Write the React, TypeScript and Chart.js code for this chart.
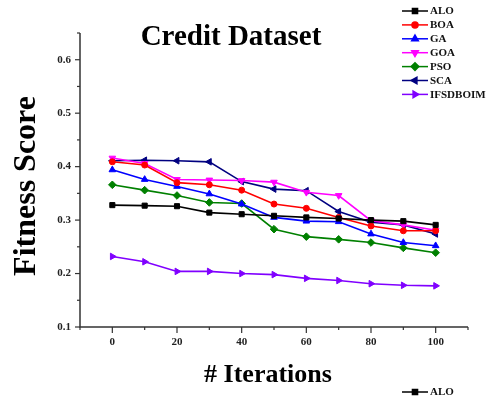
import React, { useEffect, useRef } from 'react';
import { Chart, registerables } from 'chart.js';
import { drawPoint } from 'chart.js/helpers';

Chart.register(...registerables);

const chartTitle = 'Credit Dataset';
const xAxisTitle = '# Iterations';
const yAxisTitle = 'Fitness Score';

const iterations = [0, 10, 20, 30, 40, 50, 60, 70, 80, 90, 100];

const ALO = [0.328, 0.327, 0.326, 0.314, 0.311, 0.308, 0.305, 0.303, 0.300, 0.298, 0.291];
const BOA = [0.409, 0.403, 0.370, 0.366, 0.356, 0.330, 0.322, 0.305, 0.289, 0.280, 0.280];
const GA = [0.394, 0.376, 0.363, 0.349, 0.330, 0.305, 0.298, 0.297, 0.274, 0.258, 0.252];
const GOA = [0.416, 0.406, 0.376, 0.375, 0.374, 0.371, 0.352, 0.346, 0.299, 0.291, 0.281];
const PSO = [0.366, 0.356, 0.346, 0.333, 0.331, 0.283, 0.269, 0.264, 0.258, 0.248, 0.239];
const SCA = [0.411, 0.412, 0.411, 0.409, 0.372, 0.358, 0.355, 0.316, 0.296, 0.291, 0.274];
const IFSDBOIM = [0.232, 0.222, 0.204, 0.204, 0.200, 0.198, 0.191, 0.187, 0.181, 0.178, 0.177];

const seriesNames = ['ALO', 'BOA', 'GA', 'GOA', 'PSO', 'SCA', 'IFSDBOIM'];
const seriesValues = [ALO, BOA, GA, GOA, PSO, SCA, IFSDBOIM];
const seriesColors = ['#000000', '#ff0000', '#0000ff', '#ff00ff', '#008000', '#000080', '#8000ff'];
const seriesMarkers = ['rect', 'circle', 'triangle', 'triangle', 'rectRot', 'triangle', 'triangle'];
const seriesRotations = [0, 0, 0, 180, 0, -90, 90];
const seriesMarkerRadius = [3.6, 3, 3.8, 3.8, 3.8, 3.8, 3.8];

const xTickLabels = [0, 20, 40, 60, 80, 100];
const yTickLabels = [0.1, 0.2, 0.3, 0.4, 0.5, 0.6];

const SERIF = "'Liberation Serif', 'Times New Roman', serif";

const decorPlugin = {
  id: 'decor',
  afterDraw(chart: any) {
    const ctx = chart.ctx as CanvasRenderingContext2D;
    const { left, right, top, bottom } = chart.chartArea;
    const xs = chart.scales.x;
    const ys = chart.scales.y;
    ctx.save();
    ctx.strokeStyle = '#333333';
    ctx.lineWidth = 1.5;
    ctx.beginPath();
    ctx.moveTo(left, top);
    ctx.lineTo(left, bottom);
    ctx.lineTo(right, bottom);
    ctx.stroke();
    ctx.lineWidth = 1.2;
    xs.ticks.forEach((t: any) => {
      const px = xs.getPixelForValue(t.value);
      const major = xTickLabels.includes(Math.round(t.value));
      ctx.beginPath();
      ctx.moveTo(px, bottom);
      ctx.lineTo(px, bottom + (major ? 6 : 3));
      ctx.stroke();
    });
    ys.ticks.forEach((t: any) => {
      const py = ys.getPixelForValue(t.value);
      const major = yTickLabels.some((v) => Math.abs(v - t.value) < 1e-6);
      ctx.beginPath();
      ctx.moveTo(left, py);
      ctx.lineTo(left - (major ? 5 : 3), py);
      ctx.stroke();
    });

    ctx.fillStyle = '#000000';
    ctx.font = `bold 29px ${SERIF}`;
    ctx.textAlign = 'center';
    ctx.textBaseline = 'alphabetic';
    ctx.fillText(chartTitle, 231, 45);
    ctx.font = `bold 26px ${SERIF}`;
    ctx.fillText(xAxisTitle, 268, 382);
    ctx.save();
    ctx.translate(35, 186);
    ctx.rotate(-Math.PI / 2);
    ctx.font = `bold 32px ${SERIF}`;
    ctx.fillText(yAxisTitle, 0, 0);
    ctx.restore();

    const drawEntry = (i: number, y: number) => {
      const ds = chart.data.datasets[i];
      ctx.strokeStyle = ds.borderColor;
      ctx.fillStyle = ds.backgroundColor;
      ctx.lineWidth = 1.5;
      ctx.beginPath();
      ctx.moveTo(402, y);
      ctx.lineTo(428, y);
      ctx.stroke();
      drawPoint(ctx, { pointStyle: ds.pointStyle, rotation: ds.pointRotation, radius: ds.pointRadius, borderWidth: 1 } as any, 415, y);
      ctx.fillStyle = '#111111';
      ctx.font = `bold 11px ${SERIF}`;
      ctx.textAlign = 'left';
      ctx.textBaseline = 'middle';
      ctx.fillText(ds.label, 430, y + 0.5);
    };
    chart.data.datasets.forEach((_: any, i: number) => drawEntry(i, 11 + i * 13.9));
    drawEntry(0, 392);
    ctx.restore();
  },
};

export default function App() {
  const ref = useRef<HTMLCanvasElement | null>(null);
  useEffect(() => {
    document.body.style.margin = '0';
    if (!ref.current) return;
    const datasets = seriesNames.map((name, i) => ({
      label: name,
      data: iterations.map((x, j) => ({ x, y: seriesValues[i][j] })),
      borderColor: seriesColors[i],
      backgroundColor: seriesColors[i],
      pointStyle: seriesMarkers[i],
      pointRotation: seriesRotations[i],
      pointRadius: seriesMarkerRadius[i],
      pointBorderWidth: 1,
      borderWidth: 1.6,
      tension: 0,
    }));
    const chart = new Chart(ref.current, {
      type: 'line',
      data: { datasets },
      plugins: [decorPlugin],
      options: {
        responsive: false,
        animation: false,
        devicePixelRatio: 1,
        layout: { padding: { top: 33, right: 26, left: 0, bottom: 0 } },
        plugins: { legend: { display: false }, title: { display: false }, tooltip: { enabled: false } },
        scales: {
          x: {
            type: 'linear',
            min: -10,
            max: 110,
            grid: { display: false, drawTicks: false },
            border: { display: false },
            ticks: {
              stepSize: 10,
              padding: 9,
              color: '#222222',
              font: { family: SERIF, size: 11, weight: 'bold' },
              maxRotation: 0,
              autoSkip: false,
              callback: (v: any) => (xTickLabels.includes(Math.round(Number(v))) ? String(Math.round(Number(v))) : ''),
            },
            afterFit: (scale: any) => {
              scale.height = 69;
            },
          },
          y: {
            type: 'linear',
            min: 0.1,
            max: 0.65,
            grid: { display: false, drawTicks: false },
            border: { display: false },
            ticks: {
              stepSize: 0.05,
              padding: 9,
              color: '#222222',
              font: { family: SERIF, size: 11, weight: 'bold' },
              autoSkip: false,
              callback: (v: any) => {
                const n = Number(v);
                const hit = yTickLabels.find((t) => Math.abs(t - n) < 1e-6);
                return hit !== undefined ? hit.toFixed(1) : '';
              },
            },
            afterFit: (scale: any) => {
              scale.width = 80;
            },
          },
        },
      } as any,
    });
    return () => chart.destroy();
  }, []);
  return <canvas ref={ref} width={494} height={396} style={{ display: 'block' }} />;
}
